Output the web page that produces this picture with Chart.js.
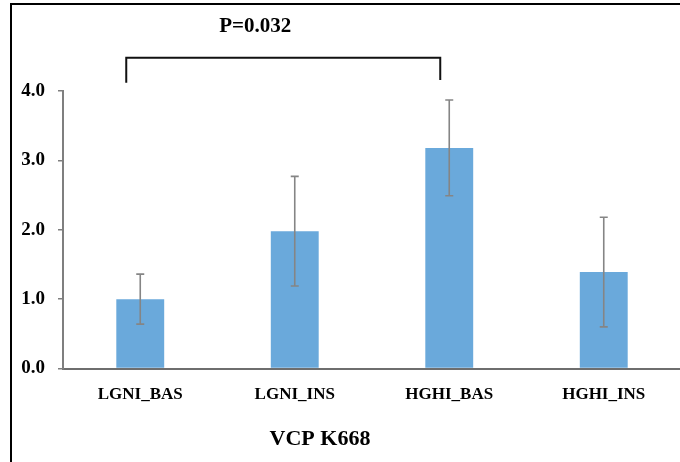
<!DOCTYPE html>
<html lang="en">
<head>
<meta charset="UTF-8">
<title>VCP K668</title>
<style>
    html, body {
        margin: 0;
        padding: 0;
        background: #fff;
        overflow: hidden;
    }

    #wrap {
        width: 680px;
        height: 462px;
        overflow: hidden;
        position: relative;
    }

    #vcpChart {
        position: absolute;
        left: 0;
        top: 0;
    }
</style>
</head>
<body>
<div id="wrap">
    <canvas id="vcpChart" width="700" height="462"></canvas>
</div>

<script src="https://cdn.jsdelivr.net/npm/chart.js"></script>
<script>
    // groups, means and standard errors
    const groups = ["LGNI_BAS", "LGNI_INS", "HGHI_BAS", "HGHI_INS"];
    const means = [1.00, 1.98, 3.18, 1.39];
    const errors = [0.36, 0.79, 0.69, 0.79];
    const yTicks = [0, 1, 2, 3, 4];

    // significance bracket between two groups
    const sigPair = [0, 2];
    const sigLabel = "P=0.032";
    const chartTitle = "VCP K668";

    const serif = "'Liberation Serif', 'Times New Roman', serif";
    const barBlue = "#6aa9db";

    // error bars drawn on top of each bar
    const errorBars = {
        id: "errorBars",
        afterDatasetsDraw(chart) {
            const ctx = chart.ctx;
            const y = chart.scales.y;
            const meta = chart.getDatasetMeta(0);
            ctx.save();
            ctx.strokeStyle = "#858585";
            ctx.lineWidth = 1.6;
            meta.data.forEach((bar, i) => {
                const top = y.getPixelForValue(means[i] + errors[i]);
                const bot = y.getPixelForValue(means[i] - errors[i]);
                ctx.beginPath();
                ctx.moveTo(bar.x, top);
                ctx.lineTo(bar.x, bot);
                ctx.moveTo(bar.x - 4, top);
                ctx.lineTo(bar.x + 4, top);
                ctx.moveTo(bar.x - 4, bot);
                ctx.lineTo(bar.x + 4, bot);
                ctx.stroke();
            });
            ctx.restore();
        }
    };

    // bracket with p-value, the title underneath and the frame
    const bracket = {
        id: "bracket",
        afterDraw(chart) {
            const ctx = chart.ctx;
            const x = chart.scales.x;
            const y = chart.scales.y;
            const x1 = x.getPixelForValue(sigPair[0]) - 14;
            const x2 = x.getPixelForValue(sigPair[1]) - 9;
            const yTop = y.getPixelForValue(4.48);
            const yLeft = y.getPixelForValue(4.12);
            const yRight = y.getPixelForValue(4.16);
            ctx.save();
            ctx.strokeStyle = "#111";
            ctx.lineWidth = 2;
            ctx.beginPath();
            ctx.moveTo(x1, yLeft);
            ctx.lineTo(x1, yTop);
            ctx.lineTo(x2, yTop);
            ctx.lineTo(x2, yRight);
            ctx.stroke();

            ctx.fillStyle = "#000";
            ctx.font = "bold 21px " + serif;
            ctx.textAlign = "left";
            ctx.textBaseline = "middle";
            ctx.fillText(sigLabel, x1 + 93, 27);

            ctx.font = "bold 22px " + serif;
            ctx.textAlign = "center";
            ctx.fillText(chartTitle, 320, 439);

            // outer frame
            ctx.strokeStyle = "#000";
            ctx.lineWidth = 2;
            ctx.beginPath();
            ctx.moveTo(11, 470);
            ctx.lineTo(11, 4);
            ctx.lineTo(710, 4);
            ctx.stroke();
            ctx.restore();
        }
    };

    new Chart(document.getElementById("vcpChart"), {
        type: "bar",
        data: {
            labels: groups,
            datasets: [{
                data: means,
                backgroundColor: barBlue,
                borderWidth: 0,
                categoryPercentage: 1,
                barPercentage: 0.31
            }]
        },
        options: {
            responsive: false,
            animation: false,
            layout: {
                padding: { left: 0, top: 91, right: 19, bottom: 0 }
            },
            plugins: {
                legend: { display: false },
                tooltip: { enabled: false }
            },
            scales: {
                x: {
                    grid: { display: false, drawTicks: false },
                    border: { display: true, color: "#6e6e6e", width: 2 },
                    ticks: {
                        color: "#000",
                        padding: 16,
                        maxRotation: 0,
                        font: { family: serif, size: 17, weight: "bold" }
                    },
                    afterFit: (scale) => { scale.height = 93.5; }
                },
                y: {
                    min: 0,
                    max: 4,
                    afterBuildTicks: (scale) => {
                        scale.ticks = yTicks.map(v => ({ value: v }));
                    },
                    grid: {
                        drawOnChartArea: false,
                        drawTicks: true,
                        tickLength: 5,
                        color: "#7f7f7f",
                        lineWidth: 1.5
                    },
                    border: { display: true, color: "#7f7f7f", width: 2 },
                    ticks: {
                        color: "#000",
                        padding: 13,
                        callback: (v) => Number(v).toFixed(1),
                        font: { family: serif, size: 19, weight: "bold" }
                    },
                    afterFit: (scale) => { scale.width = 63; }
                }
            }
        },
        plugins: [errorBars, bracket]
    });
</script>
</body>
</html>
